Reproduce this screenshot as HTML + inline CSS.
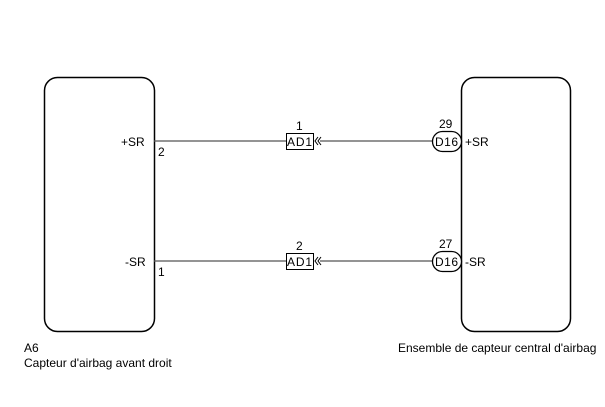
<!DOCTYPE html>
<html><head><style>body{margin:0;background:#fff}svg{display:block}text{font-family:"Liberation Sans",Arial,sans-serif;font-size:12px;fill:#000}</style></head>
<body>
<svg width="605" height="407" viewBox="0 0 605 407">
<rect x="44.5" y="77.5" width="110" height="254" rx="13" fill="none" stroke="#000" stroke-width="1.5"/>
<rect x="461.5" y="77.5" width="109" height="254" rx="13" fill="none" stroke="#000" stroke-width="1.5"/>
<g stroke="#555" stroke-width="1.2">
<line x1="154" y1="141" x2="286" y2="141"/><line x1="320" y1="141" x2="432" y2="141"/>
<line x1="154" y1="261" x2="286" y2="261"/><line x1="320" y1="261" x2="432" y2="261"/>
</g>
<g fill="none" stroke="#000" stroke-width="1">
<rect x="286.5" y="133.5" width="27" height="16" fill="#fff"/>
<rect x="286.5" y="253.5" width="27" height="16" fill="#fff"/>
<polyline points="318,137 315,141 318,145"/><polyline points="321,137 318,141 321,145"/>
<polyline points="318,257 315,261 318,265"/><polyline points="321,257 318,261 321,265"/>
<rect x="432.5" y="131.5" width="29" height="20" rx="10" fill="#fff" stroke-width="1.3"/>
<rect x="432.5" y="251.5" width="29" height="20" rx="10" fill="#fff" stroke-width="1.3"/>
</g>
<text x="287" y="146" textLength="25">AD1</text><text x="287" y="266" textLength="25">AD1</text>
<text x="296" y="130">1</text><text x="296" y="250">2</text>
<text x="435" y="146" textLength="23">D16</text><text x="435" y="266" textLength="23">D16</text>
<text x="439" y="128">29</text><text x="439" y="248">27</text>
<text x="465" y="146">+SR</text><text x="465" y="266">-SR</text>
<text x="121" y="146">+SR</text><text x="125" y="266">-SR</text>
<text x="158" y="156">2</text><text x="158" y="276">1</text>
<text x="24" y="352">A6</text>
<text x="24" y="367">Capteur d'airbag avant droit</text>
<text x="398" y="352">Ensemble de capteur central d'airbag</text>
</svg>
</body></html>
